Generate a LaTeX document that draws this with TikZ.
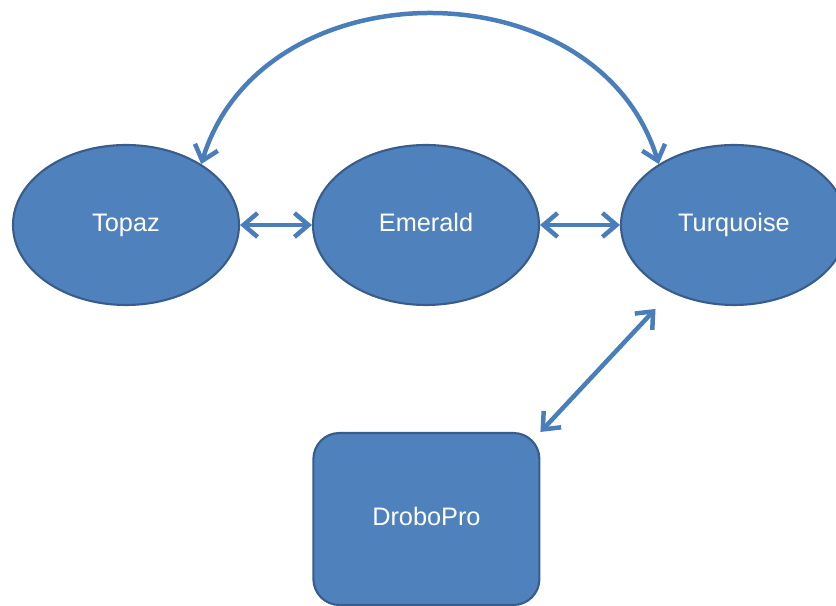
\documentclass[tikz,border=0pt]{standalone}
\usepackage{fontspec}
\setmainfont{Liberation Sans}
\usepackage{tikz}
\usetikzlibrary{arrows.meta, shapes.geometric}
\definecolor{boxblue}{HTML}{4F81BD}
\definecolor{edgeblue}{HTML}{385D8A}
\definecolor{linkblue}{HTML}{4A7EBB}

\begin{document}
\begin{tikzpicture}[<->,
			>={Straight Barb[length=10pt, width=17pt]},
			line width=3.2pt,
			draw=linkblue,
			server/.style={ellipse, fill=boxblue, draw=edgeblue, line width=1.5pt,
				minimum width=5.65cm, minimum height=4cm, text=white,
				text height=0.86em, text depth=0pt,
				font=\fontsize{18}{22}\selectfont},
			storage/.style={rectangle, rounded corners=0.65cm, fill=boxblue, draw=edgeblue,
				line width=1.5pt, minimum width=5.65cm, minimum height=4.3cm, text=white,
				text height=0.86em, text depth=0pt,
				font=\fontsize{18}{22}\selectfont}]
			
			\useasboundingbox (0,0) rectangle (20.9,15.125);
			\node[server] (topaz) at (3.15,9.5) {Topaz};
			\node[server] (emerald) at (10.65,9.5) {Emerald};
			\node[server] (turquoise) at (18.35,9.5) {Turquoise};
			\node[storage] (drobo) at (10.66,2.15) {DroboPro};
			\draw[linkblue] (topaz) -- (emerald);
			\draw[linkblue] (emerald) -- (turquoise);
			\draw[linkblue] (topaz.39) to[out=73, in=107, looseness=1.17] (turquoise.141);
			\draw[linkblue, shorten >=16pt] (drobo.north east) -- (turquoise);
		\end{tikzpicture}
\end{document}
